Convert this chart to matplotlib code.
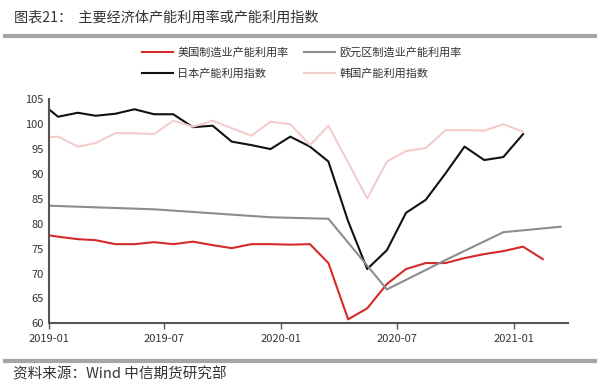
import numpy as np
import pandas as pd
import matplotlib
matplotlib.use('Agg')
import matplotlib.pyplot as plt
import matplotlib.dates as mdates
from matplotlib.lines import Line2D

plt.rcParams['font.family'] = ['Noto Sans CJK SC', 'DejaVu Sans']

# monthly points (plotted mid-month), Dec 2018 onward
meses_us = pd.date_range('2018-12-01', periods=27, freq='MS') + pd.Timedelta(days=14)
meses_jk = pd.date_range('2018-12-01', periods=26, freq='MS') + pd.Timedelta(days=14)
trimestres = pd.date_range('2018-12-01', periods=10, freq='3MS') + pd.Timedelta(days=14)

us = [78.0,
      77.4, 76.9, 76.7, 75.9, 75.9, 76.3, 75.9, 76.4, 75.7, 75.1, 75.9, 75.9,
      75.8, 75.9, 72.1, 60.8, 63.0, 67.9, 70.9, 72.1, 72.1, 73.1, 73.9, 74.5,
      75.4, 72.9]
japon = [104.7,
         101.5, 102.3, 101.7, 102.1, 103.0, 102.0, 102.0, 99.4, 99.7, 96.5, 95.8, 95.0,
         97.5, 95.5, 92.5, 80.5, 70.9, 74.7, 82.2, 84.8, 90.1, 95.5, 92.8, 93.4,
         98.0]
corea = [97.3,
         97.5, 95.5, 96.2, 98.2, 98.2, 98.0, 100.7, 99.5, 100.7, 99.2, 97.7, 100.5,
         100.0, 95.8, 99.7, 92.3, 85.1, 92.5, 94.6, 95.2, 98.8, 98.8, 98.7, 100.0,
         98.5]
euro = [83.7, 83.3, 82.9, 82.1, 81.3, 81.0, 66.8, 72.7, 78.3, 79.4]

etiquetas = ['美国制造业产能利用率', '日本产能利用指数', '欧元区制造业产能利用率', '韩国产能利用指数']

fig = plt.figure(figsize=(6, 3.82), dpi=100)
ax = fig.add_axes([0.082, 0.1537, 0.865, 0.5863])

l1, = ax.plot(meses_us, us, color='#d42a2a', lw=1.5)
l2, = ax.plot(meses_jk, japon, color='#111111', lw=1.5)
l3, = ax.plot(trimestres, euro, color='#8c8c8c', lw=1.5)
l4, = ax.plot(meses_jk, corea, color='#f5cccc', lw=1.5)

ax.set_ylim(60, 105)
ax.set_yticks(np.arange(60, 106, 5))
ax.set_xlim(pd.Timestamp('2019-01-01'), pd.Timestamp('2021-03-27'))
ax.set_xticks(pd.date_range('2019-01-01', '2021-01-01', freq='6MS'))
ax.xaxis.set_major_formatter(mdates.DateFormatter('%Y-%m'))

for s in ['top', 'right']:
    ax.spines[s].set_visible(False)
for s in ['left', 'bottom']:
    ax.spines[s].set_color('#555555')
    ax.spines[s].set_linewidth(1.5)
ax.tick_params(axis='y', length=0, labelsize=8, colors='#333333', pad=4)
ax.tick_params(axis='x', length=4, width=1, color='#555555', labelsize=8,
               labelcolor='#333333', pad=4)

fig.legend([l1, l2, l3, l4], etiquetas, loc='center', bbox_to_anchor=(0.503, 0.835),
           ncol=2, frameon=False, fontsize=8, handlelength=2.8, handletextpad=0.4,
           columnspacing=1.4, labelspacing=0.95, labelcolor='#333333')

fig.text(0.024, 0.955, '图表21：  主要经济体产能利用率或产能利用指数', fontsize=10.2,
         color='#333333', va='center', ha='left')
fig.text(0.022, 0.021, '资料来源：Wind 中信期货研究部', fontsize=10.5,
         color='#333333', va='center', ha='left')
fig.add_artist(Line2D([0.008, 0.992], [0.905, 0.905], transform=fig.transFigure,
                      color='#a6a6a6', lw=3))
fig.add_artist(Line2D([0.008, 0.992], [0.054, 0.054], transform=fig.transFigure,
                      color='#a6a6a6', lw=3))

fig.savefig('out.png', dpi=100)
